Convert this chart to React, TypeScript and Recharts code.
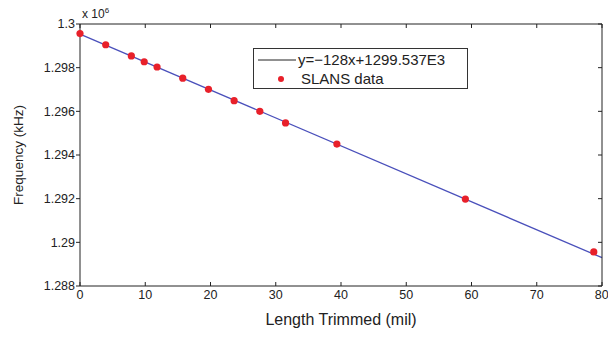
import React from 'react';
import { ComposedChart, Line, Scatter, XAxis, YAxis, Legend } from 'recharts';

// lengths in mil (converted from mm steps), frequencies in kHz
const lengths = [0, 3.94, 7.87, 9.84, 11.81, 15.75, 19.69, 23.62, 27.56, 31.5, 39.37, 59.06, 78.74];
const freqs = [
  1299560, 1299050, 1298540, 1298270, 1298030, 1297520, 1297010, 1296490, 1296000, 1295470,
  1294500, 1291980, 1289560,
];
const fitX = [0, 80];
const slope = -128;
const intercept = 1299537;
const xTicks = [0, 10, 20, 30, 40, 50, 60, 70, 80];
const yTicks = [1288000, 1290000, 1292000, 1294000, 1296000, 1298000, 1300000];

const slansData = lengths.map((x, i) => ({ x, y: freqs[i] }));
const fitData = fitX.map((x) => ({ x, fit: slope * x + intercept }));

const font = '"Liberation Sans", Arial, sans-serif';
const tickStyle = { fontSize: 12.5, fill: '#222', fontFamily: font };

const fmtY = (v: number) => String(+(v / 1e6).toFixed(3));

const renderLegend = () => (
  <div
    style={{
      border: '1px solid #333',
      background: '#fff',
      width: 215,
      height: 41,
      fontFamily: font,
      fontSize: 15,
      color: '#222',
      boxSizing: 'border-box',
      paddingTop: 1,
    }}
  >
    <div style={{ display: 'flex', alignItems: 'center', height: 19 }}>
      <svg width={44} height={10}>
        <line x1={4} y1={5} x2={42} y2={5} stroke="#222" strokeWidth={1} />
      </svg>
      <span>y=−128x+1299.537E3</span>
    </div>
    <div style={{ display: 'flex', alignItems: 'center', height: 19 }}>
      <svg width={44} height={10}>
        <circle cx={27} cy={5} r={3} fill="#e8202a" />
      </svg>
      <span style={{ marginLeft: 3 }}>SLANS data</span>
    </div>
  </div>
);

export default function App() {
  return (
    <div style={{ position: 'absolute', left: 0, top: 0, width: 608, height: 364, background: '#fff' }}>
      <ComposedChart width={608} height={364} margin={{ top: 24, right: 6, bottom: 15, left: 0 }}>
        <XAxis
          xAxisId="b"
          dataKey="x"
          type="number"
          domain={[0, 80]}
          ticks={xTicks}
          height={22}
          stroke="#222"
          tickSize={4}
          tickLine={{ transform: 'translate(0,-4)' }}
          tick={tickStyle}
          tickMargin={0}
          label={{
            value: 'Length Trimmed (mil)',
            position: 'insideBottom',
            offset: -17,
            style: { fontSize: 16, fill: '#222', fontFamily: font },
          }}
        />
        <XAxis
          xAxisId="t"
          dataKey="x"
          orientation="top"
          type="number"
          domain={[0, 80]}
          ticks={xTicks}
          height={1}
          mirror
          stroke="#222"
          tickSize={4}
          tickFormatter={() => ''}
        />
        <YAxis
          yAxisId="l"
          type="number"
          domain={[1288000, 1300000]}
          ticks={yTicks}
          width={80}
          stroke="#222"
          tickSize={4}
          tick={tickStyle}
          tickMargin={1}
          tickFormatter={fmtY}
          label={{
            value: 'Frequency (kHz)',
            angle: -90,
            position: 'insideLeft',
            offset: 18,
            style: { fontSize: 13.5, fill: '#222', fontFamily: font, textAnchor: 'middle' },
          }}
        />
        <YAxis
          yAxisId="r"
          orientation="right"
          type="number"
          domain={[1288000, 1300000]}
          ticks={yTicks}
          width={1}
          mirror
          stroke="#222"
          tickSize={4}
          tickFormatter={() => ''}
        />
        <Legend
          content={renderLegend}
          wrapperStyle={{ position: 'absolute', left: 253, top: 48, width: 215 }}
        />
        {/* invisible copy of the fit so the top/right frame axes get drawn */}
        <Line
          xAxisId="t"
          yAxisId="r"
          data={fitData}
          dataKey="fit"
          stroke="none"
          dot={false}
          legendType="none"
          isAnimationActive={false}
        />
        <Line
          xAxisId="b"
          yAxisId="l"
          data={fitData}
          dataKey="fit"
          name="y=−128x+1299.537E3"
          stroke="#4a50bb"
          strokeWidth={1.3}
          dot={false}
          isAnimationActive={false}
        />
        <Scatter
          xAxisId="b"
          yAxisId="l"
          data={slansData}
          dataKey="y"
          name="SLANS data"
          fill="#e8202a"
          shape={(p: any) => <circle cx={p.cx} cy={p.cy} r={3.6} fill="#e8202a" />}
          isAnimationActive={false}
        />
      </ComposedChart>
      <div
        style={{
          position: 'absolute',
          left: 82,
          top: 6,
          fontFamily: font,
          fontSize: 12,
          color: '#222',
        }}
      >
        x 10<sup style={{ fontSize: 8 }}>6</sup>
      </div>
    </div>
  );
}
